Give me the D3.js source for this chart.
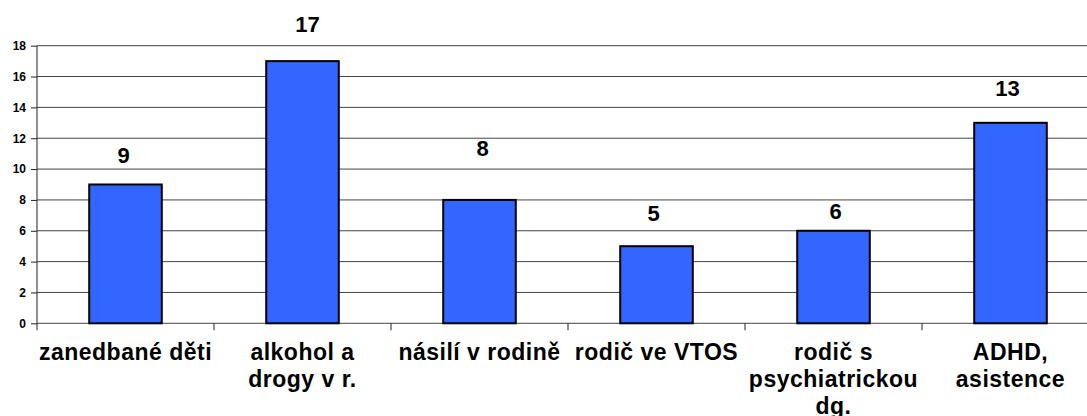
<!DOCTYPE html>
<html>
<head>
<meta charset="utf-8">
<script src="https://cdn.jsdelivr.net/npm/d3@7"></script>
<style>
  body { margin: 0; background: #fff; }
  svg { display: block; font-family: Arial, "Liberation Sans", sans-serif; }
</style>
</head>
<body>
<div id="chart"></div>
<script>
// data
const categories = ['zanedbané děti', 'alkohol a drogy v r.', 'násilí v rodině', 'rodič ve VTOS', 'rodič s psychiatrickou dg.', 'ADHD, asistence'];
const labelLines = [['zanedbané děti'], ['alkohol a', 'drogy v r.'], ['násilí v rodině'], ['rodič ve VTOS'], ['rodič s', 'psychiatrickou', 'dg.'], ['ADHD,', 'asistence']];
const counts = [9, 17, 8, 5, 6, 13];
const yTicks = [0, 2, 4, 6, 8, 10, 12, 14, 16, 18];

// the value labels were dragged by hand in the original, keep those nudges
const labelLift = [22, 29, 44, 25, 12, 27];
const labelShift = [-2, 5, 3, -3, 2, -3];

const width = 1087,
height = 416,
margin = { top: 45.7, left: 37, bottom: 323.3 };

const svg = d3.select('#chart').
append('svg').
attr('width', width).
attr('height', height);

// category slots run past the right edge, as in the source picture
const slot = d3.scaleBand().
domain(categories).
range([margin.left, margin.left + 177 * categories.length]).
padding(0);

const y = d3.scaleLinear().
domain([0, 18]).
range([margin.bottom, margin.top]);

const barW = slot.bandwidth() * 0.41;

// gridlines
svg.append('g').
selectAll('line').
data(yTicks).
enter().
append('line').
attr('x1', margin.left).
attr('x2', width).
attr('y1', d => y(d)).
attr('y2', d => y(d)).
attr('stroke', '#444').
attr('stroke-width', 1);

// y axis
const yAxis = svg.append('g').
attr('transform', `translate(${margin.left},0)`).
call(d3.axisLeft(y).tickValues(yTicks).tickSize(6).tickPadding(5));
yAxis.select('.domain').remove();
yAxis.selectAll('.tick line').attr('stroke', '#222');
yAxis.selectAll('text').
attr('fill', '#000').
style('font-size', '12px').
style('font-weight', 'bold').
style('font-family', 'Arial, "Liberation Sans", sans-serif');

svg.append('line').
attr('x1', margin.left).
attr('x2', margin.left).
attr('y1', margin.top).
attr('y2', margin.bottom + 7).
attr('stroke', '#222');

// category ticks at slot boundaries
svg.append('g').
selectAll('line').
data(categories).
enter().
append('line').
attr('x1', d => slot(d) + slot.bandwidth()).
attr('x2', d => slot(d) + slot.bandwidth()).
attr('y1', margin.bottom).
attr('y2', margin.bottom + 7).
attr('stroke', '#222');

// bars
svg.append('g').
selectAll('rect').
data(counts).
enter().
append('rect').
attr('x', (d, i) => slot(categories[i]) + (slot.bandwidth() - barW) / 2).
attr('y', d => y(d)).
attr('width', barW).
attr('height', d => y(0) - y(d)).
attr('fill', '#3366FF').
attr('stroke', '#000').
attr('stroke-width', 2);

// value labels
svg.append('g').
selectAll('text').
data(counts).
enter().
append('text').
attr('x', (d, i) => slot(categories[i]) + slot.bandwidth() / 2 + labelShift[i]).
attr('y', (d, i) => y(d) - labelLift[i]).
attr('text-anchor', 'middle').
style('font-size', '22px').
style('font-weight', 'bold').
text(d => d);

// category labels (last line of the long one is clipped at the bottom, like the original)
const catLabels = svg.append('g').
selectAll('text').
data(categories).
enter().
append('text').
attr('text-anchor', 'middle').
attr('x', d => slot(d) + slot.bandwidth() / 2).
attr('y', 360).
style('font-size', '23px').
style('font-weight', 'bold').
style('letter-spacing', '0.5px');

catLabels.selectAll('tspan').
data((d, i) => labelLines[i]).
enter().
append('tspan').
attr('x', function () {return d3.select(this.parentNode).attr('x');}).
attr('dy', (d, i) => i === 0 ? 0 : 27).
text(d => d);
</script>
</body>
</html>
